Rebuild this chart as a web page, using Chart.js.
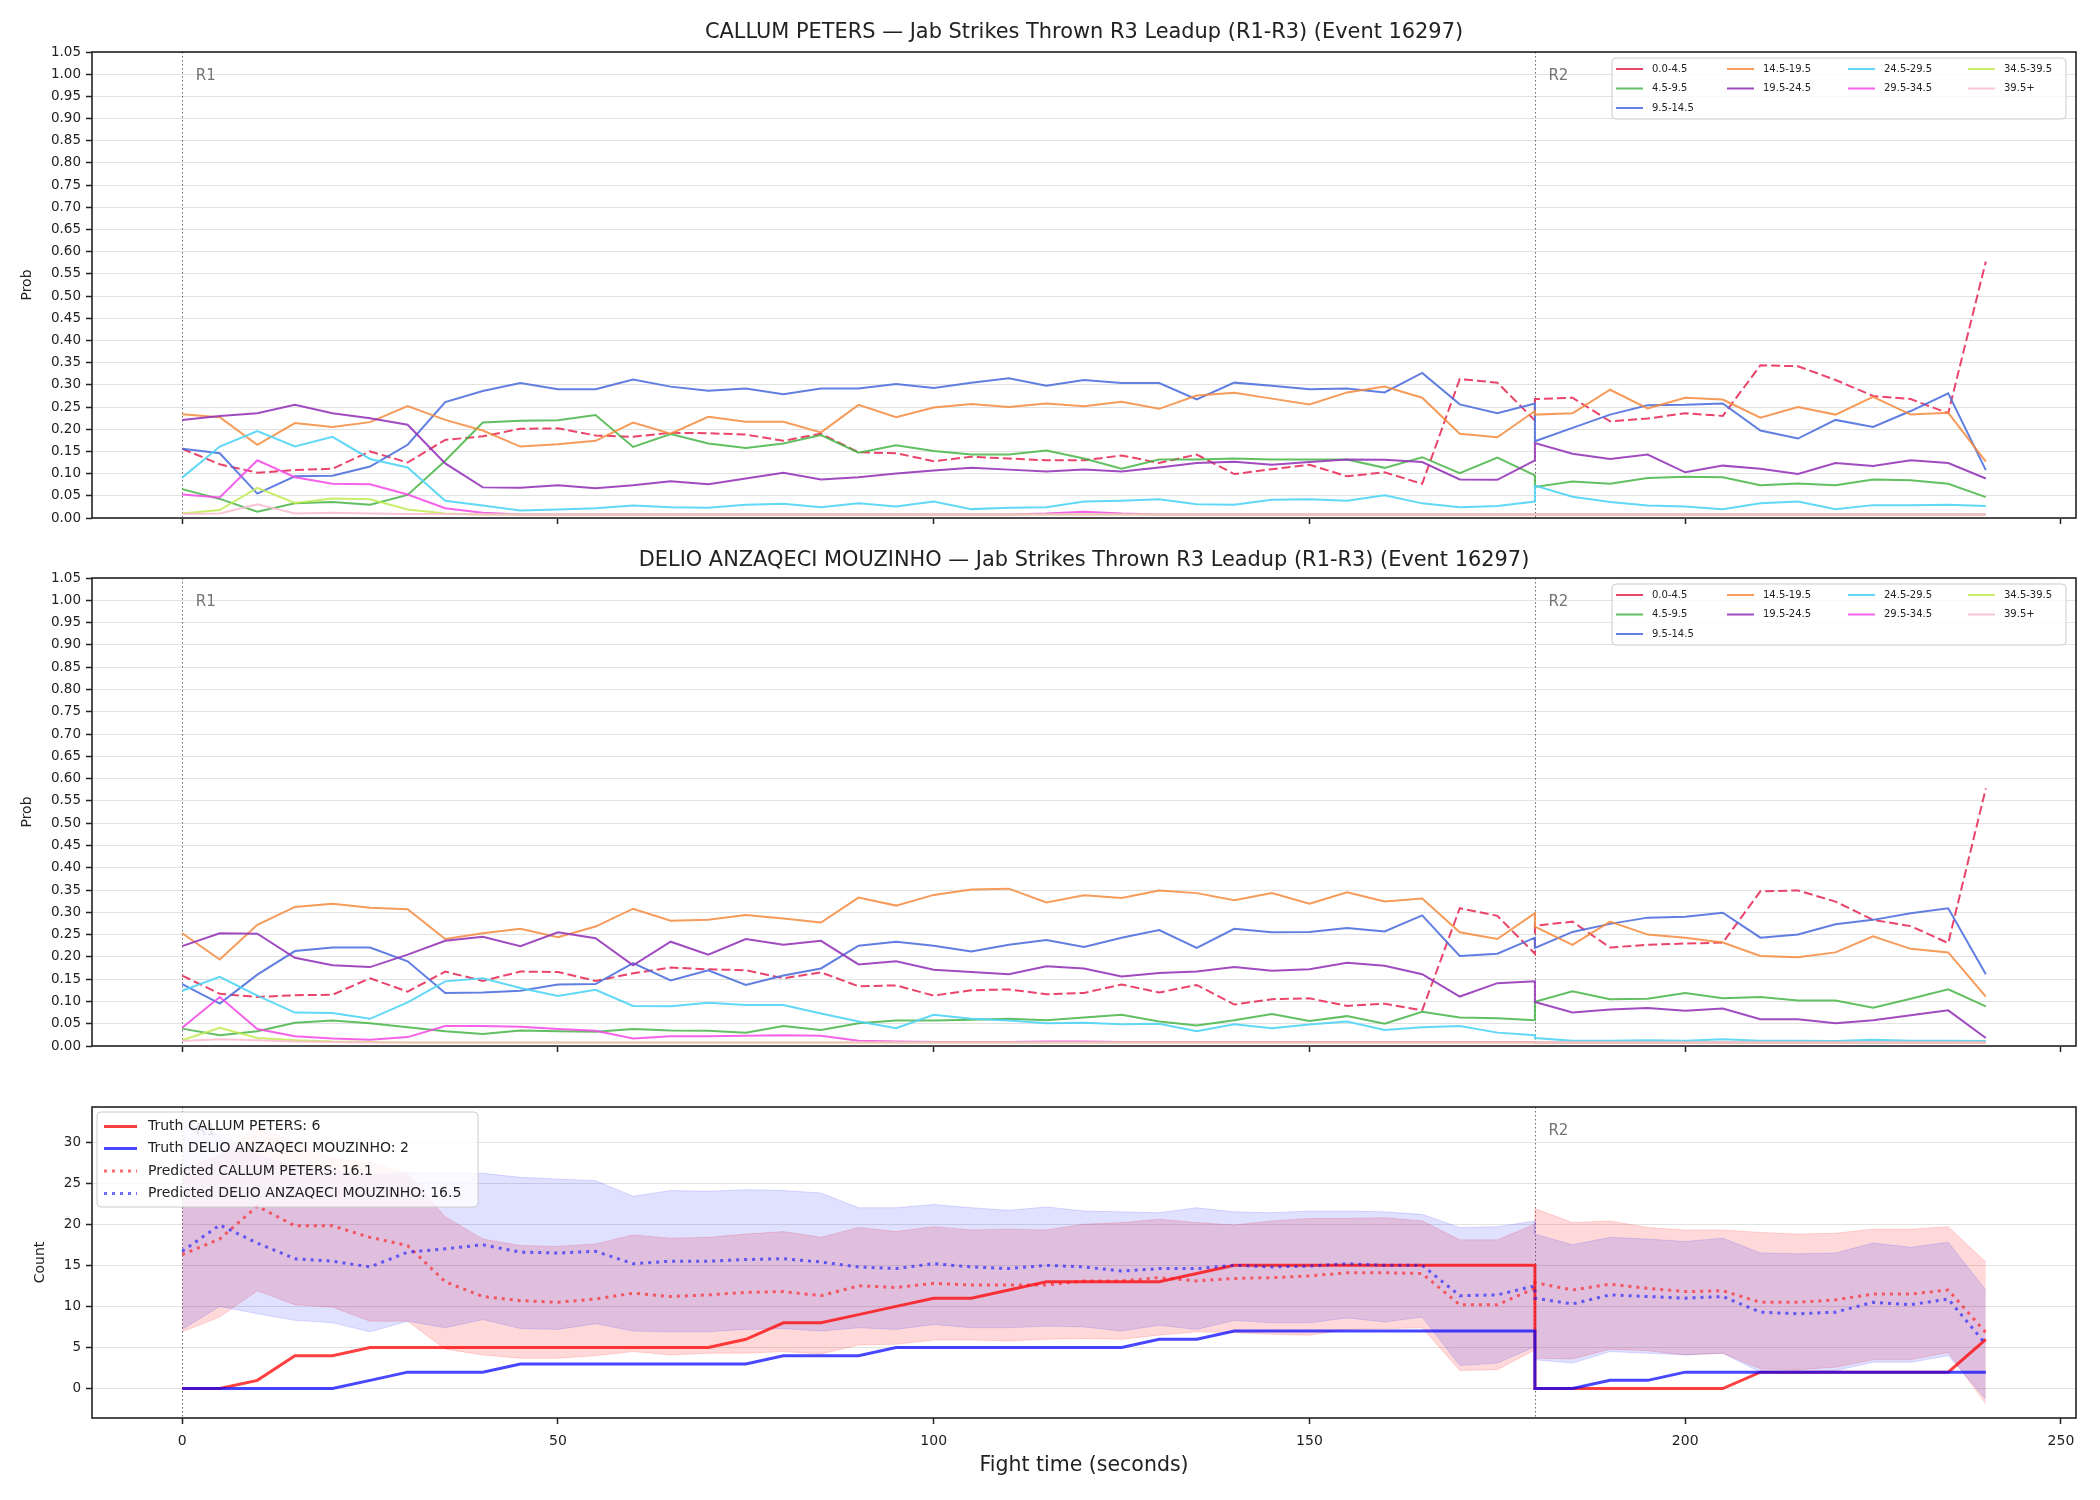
<!DOCTYPE html>
<html>
<head>
<meta charset="utf-8">
<script src="https://cdn.jsdelivr.net/npm/chart.js@4.4.1/dist/chart.umd.min.js"></script>
<style>
  html, body { margin: 0; padding: 0; background: #fff; }
  #wrap { position: relative; width: 2100px; height: 1500px; }
  canvas { position: absolute; left: 0; }
</style>
</head>
<body>
<div id="wrap">
  <canvas id="p1" width="2100" height="540" style="top:0px"></canvas>
  <canvas id="p2" width="2100" height="530" style="top:540px"></canvas>
  <canvas id="p3" width="2100" height="430" style="top:1070px"></canvas>
</div>
<script>
// time axis: R1 runs 0..180, R2 restarts at 180 (duplicate x makes the jump)
const TIMES = [0,5,10,15,20,25,30,35,40,45,50,55,60,65,70,75,80,85,90,95,100,105,110,115,120,125,130,135,140,145,150,155,160,165,170,175,180,
  180,185,190,195,200,205,210,215,220,225,230,235,240];
const ROUNDS = [0, 180];
const ROUND_LABELS = ["R1", "R2"];
const XTICKS = [0, 50, 100, 150, 200, 250];
const PROB_TICKS = [0.00,0.05,0.10,0.15,0.20,0.25,0.30,0.35,0.40,0.45,0.50,0.55,0.60,0.65,0.70,0.75,0.80,0.85,0.90,0.95,1.00,1.05];
const COUNT_TICKS = [0, 5, 10, 15, 20, 25, 30];
const BINS = ["0.0-4.5","4.5-9.5","9.5-14.5","14.5-19.5","19.5-24.5","24.5-29.5","29.5-34.5","34.5-39.5","39.5+"];

const TITLE_TOP = "CALLUM PETERS \u2014 Jab Strikes Thrown R3 Leadup (R1-R3) (Event 16297)";
const TITLE_MID = "DELIO ANZAQECI MOUZINHO \u2014 Jab Strikes Thrown R3 Leadup (R1-R3) (Event 16297)";

// CALLUM PETERS bin probabilities
const CP_00_04 = [.156,.121,.102,.108,.111,.150,.125,.176,.184,.201,.202,.186,.183,.192,.191,.188,.174,.190,.148,.146,.128,.138,.134,.130,.130,.141,.124,.143,.099,.110,.120,.094,.103,.077,.313,.305,.220,
  .268,.271,.218,.224,.236,.230,.344,.342,.311,.275,.268,.236,.578];
const CP_04_09 = [.065,.043,.014,.033,.036,.030,.052,.129,.215,.219,.220,.232,.160,.189,.168,.158,.168,.187,.147,.164,.151,.143,.143,.152,.134,.111,.132,.132,.134,.132,.132,.132,.113,.137,.101,.136,.096,
  .070,.082,.077,.090,.093,.092,.074,.078,.074,.087,.085,.077,.047];
const CP_09_14 = [.156,.146,.055,.094,.095,.116,.165,.261,.286,.304,.290,.290,.312,.296,.287,.292,.279,.292,.292,.302,.293,.305,.315,.298,.311,.304,.304,.267,.305,.298,.290,.292,.283,.327,.256,.236,.258,
  .173,.203,.233,.254,.255,.258,.197,.179,.221,.205,.241,.281,.108];
const CP_14_19 = [.234,.227,.165,.214,.205,.216,.252,.221,.197,.161,.166,.174,.215,.190,.228,.217,.217,.193,.255,.227,.249,.257,.250,.258,.252,.262,.246,.276,.282,.269,.256,.283,.296,.271,.190,.182,.241,
  .233,.236,.289,.247,.271,.267,.226,.250,.233,.273,.233,.237,.127];
const CP_19_24 = [.221,.230,.236,.255,.236,.225,.210,.123,.069,.068,.074,.067,.074,.083,.076,.089,.102,.087,.092,.100,.107,.113,.109,.105,.109,.105,.114,.124,.127,.120,.126,.132,.131,.126,.087,.086,.130,
  .169,.145,.133,.143,.103,.118,.111,.099,.124,.117,.130,.124,.089];
const CP_24_29 = [.091,.161,.196,.161,.183,.133,.114,.039,.028,.017,.019,.022,.028,.024,.023,.030,.032,.024,.033,.026,.037,.020,.023,.024,.037,.039,.042,.031,.030,.041,.042,.039,.051,.033,.024,.027,.037,
  .073,.048,.036,.028,.026,.020,.033,.037,.020,.029,.029,.030,.027];
const CP_29_34 = [.053,.046,.130,.092,.077,.076,.053,.022,.012,.008,.008,.008,.008,.008,.008,.008,.008,.008,.008,.008,.008,.008,.008,.010,.014,.010,.008,.008,.008,.008,.008,.008,.008,.008,.008,.008,.008,
  .008,.008,.008,.008,.008,.008,.008,.008,.008,.008,.008,.008,.008];
const CP_34_39 = [.010,.018,.068,.034,.044,.042,.019,.010,.008,.008,.008,.008,.008,.008,.008,.008,.008,.008,.008,.008,.008,.008,.008,.008,.008,.008,.008,.008,.008,.008,.008,.008,.008,.008,.008,.008,.008,
  .008,.008,.008,.008,.008,.008,.008,.008,.008,.008,.008,.008,.008];
const CP_39_UP = [.009,.010,.031,.010,.012,.010,.009,.009,.008,.008,.008,.008,.008,.008,.008,.008,.008,.008,.008,.008,.008,.008,.008,.008,.008,.008,.008,.008,.008,.008,.008,.008,.008,.008,.008,.008,.008,
  .008,.008,.008,.008,.008,.008,.008,.008,.008,.008,.008,.008,.008];

// DELIO ANZAQECI MOUZINHO bin probabilities
const DM_00_04 = [.158,.117,.110,.114,.115,.152,.122,.167,.146,.167,.166,.146,.163,.176,.172,.170,.152,.165,.134,.136,.113,.125,.127,.116,.119,.138,.120,.137,.093,.105,.107,.090,.095,.080,.309,.292,.207,
  .270,.279,.221,.227,.230,.232,.347,.349,.324,.283,.269,.231,.578];
const DM_04_09 = [.039,.024,.033,.052,.057,.051,.042,.033,.027,.035,.033,.032,.038,.035,.034,.030,.045,.036,.051,.057,.057,.059,.061,.058,.064,.070,.055,.046,.058,.072,.056,.067,.050,.077,.064,.062,.058,
  .099,.123,.105,.106,.119,.107,.110,.102,.102,.086,.106,.127,.089];
const DM_09_14 = [.139,.095,.160,.213,.221,.221,.190,.119,.120,.124,.138,.139,.186,.147,.170,.137,.158,.174,.225,.234,.225,.212,.227,.238,.222,.243,.260,.220,.263,.255,.256,.265,.257,.293,.202,.207,.243,
  .220,.256,.274,.288,.290,.299,.243,.250,.273,.283,.298,.309,.161];
const DM_14_19 = [.253,.194,.272,.312,.319,.310,.307,.240,.253,.263,.244,.268,.308,.281,.283,.294,.286,.277,.333,.315,.339,.351,.353,.322,.338,.332,.349,.343,.327,.343,.319,.345,.324,.331,.255,.240,.298,
  .268,.227,.279,.250,.243,.232,.202,.199,.210,.246,.218,.210,.111];
const DM_19_24 = [.224,.253,.252,.198,.181,.177,.205,.236,.245,.224,.255,.242,.181,.234,.205,.240,.227,.236,.183,.190,.171,.166,.161,.179,.174,.156,.164,.167,.177,.169,.172,.187,.180,.161,.111,.141,.145,
  .099,.075,.082,.085,.079,.084,.060,.060,.051,.058,.069,.080,.018];
const DM_24_29 = [.124,.155,.113,.075,.074,.061,.098,.145,.152,.130,.112,.126,.090,.089,.097,.092,.092,.073,.055,.040,.070,.061,.057,.051,.052,.049,.050,.033,.049,.040,.048,.055,.036,.042,.045,.030,.024,
  .018,.012,.012,.013,.012,.015,.012,.012,.011,.014,.012,.012,.011];
const DM_29_34 = [.041,.110,.038,.022,.017,.014,.020,.045,.045,.043,.038,.034,.017,.022,.022,.023,.024,.023,.012,.010,.009,.009,.009,.010,.010,.009,.009,.009,.009,.009,.009,.009,.009,.009,.009,.009,.009,
  .008,.008,.008,.008,.008,.008,.008,.008,.008,.008,.008,.008,.008];
const DM_34_39 = [.013,.041,.018,.013,.010,.009,.008,.008,.008,.008,.008,.008,.008,.008,.008,.008,.008,.008,.008,.008,.008,.008,.008,.008,.008,.008,.008,.008,.008,.008,.008,.008,.008,.008,.008,.008,.008,
  .008,.008,.008,.008,.008,.008,.008,.008,.008,.008,.008,.008,.008];
const DM_39_UP = [.011,.015,.013,.010,.009,.008,.008,.008,.008,.008,.008,.008,.008,.008,.008,.008,.008,.008,.008,.008,.008,.008,.008,.008,.008,.008,.008,.008,.008,.008,.008,.008,.008,.008,.008,.008,.008,
  .008,.008,.008,.008,.008,.008,.008,.008,.008,.008,.008,.008,.008];

// cumulative counts
const TRUTH_CP = [0,0,1,4,4,5,5,5,5,5,5,5,5,5,5,6,8,8,9,10,11,11,12,13,13,13,13,14,15,15,15,15,15,15,15,15,15,
  0,0,0,0,0,0,2,2,2,2,2,2,6];
const TRUTH_DM = [0,0,0,0,0,1,2,2,2,3,3,3,3,3,3,3,4,4,4,5,5,5,5,5,5,5,6,6,7,7,7,7,7,7,7,7,7,
  0,0,1,1,2,2,2,2,2,2,2,2,2];
const PRED_CP = [16.3,18.2,22.2,19.8,19.8,18.4,17.4,13.0,11.2,10.7,10.5,10.9,11.6,11.2,11.4,11.7,11.8,11.3,12.5,12.3,12.8,12.6,12.6,12.6,13.1,13.1,13.5,13.1,13.4,13.5,13.7,14.1,14.1,14.0,10.2,10.2,12.2,
  12.9,12.0,12.7,12.2,11.8,11.9,10.5,10.5,10.8,11.5,11.5,12.0,6.8];
const PRED_DM = [16.7,19.9,17.7,15.8,15.5,14.8,16.6,17.0,17.5,16.6,16.5,16.7,15.2,15.5,15.5,15.7,15.8,15.4,14.8,14.6,15.2,14.8,14.6,15.0,14.8,14.3,14.6,14.6,15.0,14.8,14.9,15.2,15.0,15.0,11.3,11.4,12.5,
  11.0,10.3,11.4,11.2,11.0,11.2,9.3,9.1,9.3,10.5,10.2,10.9,5.4];
const BAND_CP_HI = [26.5,28.5,31.8,30.0,28.0,27.5,26.1,20.9,18.2,17.4,17.3,17.6,18.7,18.3,18.4,18.8,19.1,18.4,19.6,19.1,19.7,19.3,19.4,19.3,20.0,20.2,20.6,20.2,19.9,20.4,20.7,20.7,20.8,20.4,18.1,18.1,20.0,
  21.9,20.2,20.4,19.6,19.3,19.3,19.0,18.8,18.9,19.4,19.4,19.7,15.4];
const BAND_CP_LO = [6.9,8.7,11.9,10.2,9.9,8.2,8.2,4.8,4.1,3.7,3.7,4.0,4.5,4.1,4.3,4.3,4.5,4.2,5.3,5.4,5.9,5.9,5.8,6.0,6.1,6.0,6.5,6.9,6.8,6.6,6.5,7.2,7.3,7.4,2.2,2.3,4.7,
  3.7,3.6,4.8,4.6,4.1,4.3,2.4,2.3,2.6,3.5,3.5,4.4,-1.86];
const BAND_DM_HI = [32.5,31.0,28.5,27.0,26.5,26.0,26.3,26.2,26.2,25.7,25.5,25.3,23.4,24.1,24.0,24.2,24.1,23.8,22.0,22.0,22.4,22.0,21.7,22.1,21.6,21.5,21.4,22.0,21.5,21.4,21.6,21.6,21.5,21.2,19.6,19.7,20.4,
  18.8,17.5,18.4,18.2,17.9,18.3,16.5,16.4,16.5,17.7,17.2,17.8,12.0];
const BAND_DM_LO = [7.2,10.0,9.1,8.3,8.0,6.9,8.2,7.4,8.4,7.3,7.2,7.9,7.0,6.9,6.9,7.2,7.3,7.0,7.4,7.2,7.8,7.4,7.4,7.6,7.5,7.0,7.7,7.2,8.3,8.0,8.0,8.6,8.1,8.7,2.8,3.1,5.1,
  3.5,3.1,4.5,4.3,4.1,4.3,2.0,1.9,2.2,3.2,3.2,4.0,-1.3];
const COUNT_LABELS = ["Truth CALLUM PETERS: 6", "Truth DELIO ANZAQECI MOUZINHO: 2",
  "Predicted CALLUM PETERS: 16.1", "Predicted DELIO ANZAQECI MOUZINHO: 16.5"];

(function () {
  "use strict";

  const FONT = "'DejaVu Sans', sans-serif";
  const INK = "#222";
  const BIN_COLORS = [
    "rgba(232,48,90,0.9)", "rgba(70,180,70,0.85)", "rgba(80,112,222,0.9)",
    "rgba(245,138,60,0.85)", "rgba(150,55,185,0.9)", "rgba(80,212,245,0.9)",
    "rgba(245,70,230,0.85)", "rgba(190,235,80,0.85)", "rgba(250,190,208,0.9)",
  ];

  function pts(values) {
    return TIMES.map(function (t, i) {
      return { x: t, y: values[i] };
    });
  }

  function legendBox(ctx, x, y, w, h) {
    ctx.save();
    ctx.fillStyle = "rgba(255,255,255,0.8)";
    ctx.strokeStyle = "#cccccc";
    ctx.lineWidth = 1;
    ctx.beginPath();
    ctx.roundRect(x, y, w, h, 4);
    ctx.fill();
    ctx.stroke();
    ctx.restore();
  }

  function sample(ctx, ds, x1, x2, y, dashed) {
    ctx.strokeStyle = ds.borderColor;
    ctx.lineWidth = ds.borderWidth;
    ctx.setLineDash(dashed ? ds.borderDash || [] : []);
    ctx.beginPath();
    ctx.moveTo(x1, y);
    ctx.lineTo(x2, y);
    ctx.stroke();
    ctx.setLineDash([]);
  }

  // matplotlib-style ncol=4 legend, filled column by column
  function drawBinLegend(chart) {
    const ctx = chart.ctx, a = chart.chartArea;
    const left = a.right - 464, top = a.top + 6;
    legendBox(ctx, left, top, 454, 61);
    const colX = [4, 115, 236, 356];
    const perCol = [3, 2, 2, 2];
    ctx.save();
    ctx.font = "10px " + FONT;
    ctx.textBaseline = "middle";
    ctx.fillStyle = INK;
    let k = 0;
    for (let c = 0; c < 4; c++) {
      for (let r = 0; r < perCol[c]; r++) {
        const ds = chart.data.datasets[k++];
        const x = left + colX[c], y = top + 11 + 19.5 * r;
        sample(ctx, ds, x, x + 27, y, false);
        ctx.fillText(ds.label, x + 36, y);
      }
    }
    ctx.restore();
  }

  function drawCountLegend(chart) {
    const ctx = chart.ctx, a = chart.chartArea;
    const left = a.left + 5, top = a.top + 5;
    legendBox(ctx, left, top, 381, 95);
    ctx.save();
    ctx.font = "14px " + FONT;
    ctx.textBaseline = "middle";
    ctx.fillStyle = INK;
    const rows = [14.5, 36.5, 59, 81.5];
    for (let i = 0; i < 4; i++) {
      const ds = chart.data.datasets[4 + i];
      const y = top + rows[i];
      sample(ctx, ds, left + 7, left + 40, y, true);
      ctx.fillText(ds.label, left + 51, y);
    }
    ctx.restore();
  }

  const decor = {
    id: "decor",
    beforeDatasetsDraw(chart, args, o) {
      const ctx = chart.ctx, a = chart.chartArea, xs = chart.scales.x;
      ctx.save();
      ctx.strokeStyle = "rgba(80,80,80,0.85)";
      ctx.lineWidth = 1;
      ctx.setLineDash([1.5, 2.5]);
      ctx.font = "15px " + FONT;
      ctx.fillStyle = "rgba(100,100,100,0.9)";
      ctx.textBaseline = "middle";
      ROUNDS.forEach(function (r, i) {
        const px = Math.round(xs.getPixelForValue(r)) + 0.5;
        ctx.beginPath();
        ctx.moveTo(px, a.top);
        ctx.lineTo(px, a.bottom);
        ctx.stroke();
        ctx.fillText(ROUND_LABELS[i], xs.getPixelForValue(r + 1.8), a.top + 24);
      });
      ctx.restore();
    },
    afterDraw(chart, args, o) {
      const ctx = chart.ctx, a = chart.chartArea;
      ctx.save();
      ctx.strokeStyle = INK;
      ctx.lineWidth = 1.6;
      ctx.strokeRect(a.left, a.top, a.right - a.left, a.bottom - a.top);
      ctx.fillStyle = INK;
      ctx.textAlign = "center";
      ctx.textBaseline = "middle";
      if (o.title) {
        ctx.font = "20.9px " + FONT;
        ctx.fillText(o.title, (a.left + a.right) / 2, o.titleY);
      }
      if (o.xlabel) {
        ctx.font = "20.5px " + FONT;
        ctx.fillText(o.xlabel, (a.left + a.right) / 2, o.xlabelY);
      }
      if (o.ylabel) {
        ctx.font = "14px " + FONT;
        ctx.translate(o.ylabelX, (a.top + a.bottom) / 2);
        ctx.rotate(-Math.PI / 2);
        ctx.fillText(o.ylabel, 0, 0);
      }
      ctx.restore();
      if (o.legend === "bins") drawBinLegend(chart);
      if (o.legend === "counts") drawCountLegend(chart);
    },
  };

  function options(o) {
    return {
      responsive: false,
      animation: false,
      devicePixelRatio: 1,
      layout: { padding: { left: 0, right: 24, top: o.padTop, bottom: 0 } },
      plugins: { legend: { display: false }, tooltip: { enabled: false }, decor: o.decor },
      scales: {
        x: {
          type: "linear",
          min: -12,
          max: 252,
          afterBuildTicks: function (s) {
            s.ticks = XTICKS.map(function (v) { return { value: v }; });
          },
          afterFit: function (s) { s.height = o.axisH; },
          grid: { drawOnChartArea: false, tickLength: 6, tickColor: INK, tickWidth: 1.5 },
          border: { display: false },
          ticks: {
            display: !!o.xLabels,
            autoSkip: false,
            maxRotation: 0,
            padding: 9,
            color: INK,
            font: { family: FONT, size: 14 },
          },
        },
        y: {
          type: "linear",
          min: o.yMin,
          max: o.yMax,
          afterBuildTicks: function (s) {
            s.ticks = o.yTicks.map(function (v) { return { value: v }; });
          },
          afterFit: function (s) { s.width = 92; },
          grid: { color: "#e2e2e2", lineWidth: 1, tickLength: 6, tickColor: INK, tickWidth: 1.5 },
          border: { display: false },
          ticks: {
            autoSkip: false,
            padding: 5,
            color: INK,
            font: { family: FONT, size: 13.5 },
            callback: o.fmt,
          },
        },
      },
    };
  }

  function probChart(id, series, padTop, axisH, title, titleY) {
    const datasets = series.map(function (vals, i) {
      return {
        label: BINS[i],
        data: pts(vals),
        borderColor: BIN_COLORS[i],
        borderWidth: 2,
        borderDash: i === 0 ? [9, 4] : [],
        pointRadius: 0,
        tension: 0,
        fill: false,
        order: 20 - i,
      };
    });
    return new Chart(document.getElementById(id), {
      type: "line",
      data: { datasets: datasets },
      plugins: [decor],
      options: options({
        padTop: padTop,
        axisH: axisH,
        yMin: 0,
        yMax: 1.05,
        yTicks: PROB_TICKS,
        fmt: function (v) { return Number(v).toFixed(2); },
        decor: { title: title, titleY: titleY, ylabel: "Prob", ylabelX: 27, legend: "bins" },
      }),
    });
  }

  function line(label, vals, color, width, dash, order) {
    return {
      label: label,
      data: pts(vals),
      borderColor: color,
      borderWidth: width,
      borderDash: dash,
      pointRadius: 0,
      tension: 0,
      fill: false,
      order: order,
    };
  }

  function band(vals, color, fillColor, order, hi) {
    const d = line("", vals, color, 1, [], order);
    if (hi) {
      d.fill = "+1";
      d.backgroundColor = fillColor;
    }
    return d;
  }

  function countChart() {
    const datasets = [
      band(BAND_CP_HI, "rgba(255,0,0,0.15)", "rgba(255,0,0,0.15)", 10, true),
      band(BAND_CP_LO, "rgba(255,0,0,0.15)", null, 9, false),
      band(BAND_DM_HI, "rgba(0,0,255,0.13)", "rgba(0,0,255,0.12)", 8, true),
      band(BAND_DM_LO, "rgba(0,0,255,0.13)", null, 7, false),
      line(COUNT_LABELS[0], TRUTH_CP, "rgba(255,0,0,0.75)", 3, [], 6),
      line(COUNT_LABELS[1], TRUTH_DM, "rgba(0,0,255,0.72)", 3, [], 5),
      line(COUNT_LABELS[2], PRED_CP, "rgba(255,20,20,0.62)", 3, [3, 5], 4),
      line(COUNT_LABELS[3], PRED_DM, "rgba(20,20,255,0.62)", 3, [3, 5], 3),
    ];
    return new Chart(document.getElementById("p3"), {
      type: "line",
      data: { datasets: datasets },
      plugins: [decor],
      options: options({
        padTop: 37,
        axisH: 82,
        xLabels: true,
        yMin: -3.58,
        yMax: 34.26,
        yTicks: COUNT_TICKS,
        fmt: function (v) { return String(v); },
        decor: {
          ylabel: "Count",
          ylabelX: 40,
          xlabel: "Fight time (seconds)",
          xlabelY: 396,
          legend: "counts",
        },
      }),
    });
  }

  probChart("p1", [CP_00_04, CP_04_09, CP_09_14, CP_14_19, CP_19_24, CP_24_29, CP_29_34, CP_34_39, CP_39_UP],
    52, 22, TITLE_TOP, 33);
  probChart("p2", [DM_00_04, DM_04_09, DM_09_14, DM_14_19, DM_19_24, DM_24_29, DM_29_34, DM_34_39, DM_39_UP],
    38, 24, TITLE_MID, 21);
  countChart();
})();
</script>
</body>
</html>
